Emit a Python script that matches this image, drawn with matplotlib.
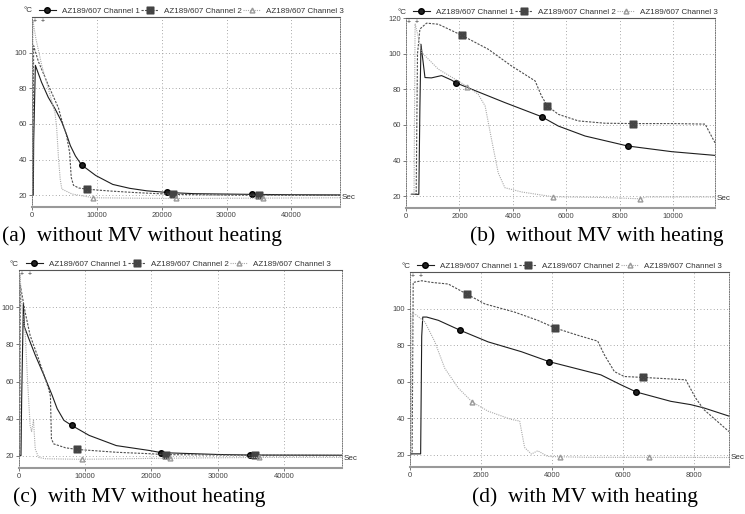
import numpy as np
import matplotlib.pyplot as plt

# channel curves, t in sec, T in degC
# (a) without MV without heating
a_t1 = [0, 200, 260, 520, 1470, 2510, 3560, 4610, 5390, 5920, 6700, 7640, 9840, 12460, 15080, 17700, 20840, 25000, 34000, 40000, 47500]
a_y1 = [20, 20, 50, 93, 83.5, 75, 68.5, 61, 53.4, 47.8, 42, 37, 31, 26, 23.8, 22.4, 21.5, 20.8, 20.4, 20.2, 20.1]
a_t2 = [0, 150, 250, 1000, 2500, 4080, 4600, 5300, 5800, 6050, 6400, 7200, 8530, 12000, 16000, 21800, 30000, 47500]
a_y2 = [20, 20, 104, 95, 82, 69, 62, 54, 44, 30, 25.5, 24, 23.3, 22.3, 21.4, 20.4, 20, 19.9]
a_t3 = [0, 100, 150, 600, 1500, 2500, 3560, 3800, 4100, 4350, 4600, 6180, 9440, 15000, 22260, 35600, 47500]
a_y3 = [20, 20, 118, 108, 93, 80, 66, 58, 40, 29, 23.4, 20.6, 18.5, 18.3, 18.1, 18.3, 18.5]
a_m1 = [7640, 20840, 34000]
a_m2 = [8530, 21800, 35000]
a_m3 = [9440, 22260, 35600]

# (b) without MV with heating
b_t1 = [200, 480, 520, 560, 710, 950, 1330, 1700, 1860, 2460, 3700, 5070, 5700, 6700, 8290, 9940, 11560]
b_y1 = [21, 21, 70, 105.4, 86.7, 86.5, 87.8, 85.3, 83.8, 80.1, 72.6, 64.7, 59.4, 53.8, 48.2, 45, 42.9]
b_t2 = [200, 380, 430, 520, 770, 1210, 2080, 3080, 3950, 4830, 5070, 5290, 5700, 6450, 7440, 8500, 10000, 11190, 11560]
b_y2 = [21, 21, 100, 114, 117.3, 116.7, 110.5, 102.6, 93.2, 84.8, 76.3, 70.7, 66, 62.3, 61, 60.8, 60.8, 60.5, 50]
b_t3 = [200, 300, 340, 420, 590, 1210, 2300, 2700, 2960, 3200, 3450, 3700, 4330, 5510, 7440, 8750, 9000, 11560]
b_y3 = [21, 21, 117, 112, 100.8, 91.4, 81.6, 77.3, 70.7, 51.9, 33.1, 24.7, 22.3, 19.6, 19.2, 18.5, 19.5, 19.5]
b_m1 = [1860, 5070, 8290]
b_m2 = [2080, 5290, 8500]
b_m3 = [2300, 5510, 8750]

# (c) with MV without heating
c_t1 = [0, 300, 400, 660, 820, 1500, 2450, 3980, 5000, 5770, 6790, 7960, 10600, 14700, 19800, 21480, 30000, 34900, 48800]
c_y1 = [20, 20, 50, 102, 89.5, 83, 74.3, 61.6, 52.6, 45.3, 39, 36.3, 30.9, 25.4, 22.7, 21.6, 20.6, 20.3, 20.2]
c_t2 = [0, 100, 200, 920, 1680, 2960, 4490, 4750, 4900, 5250, 7040, 8830, 14700, 19800, 22190, 35700, 48800]
c_y2 = [20, 20, 112, 97.6, 84.9, 72.2, 55.9, 52, 29, 26.3, 24.2, 23.3, 21.8, 21, 20.5, 20.2, 20.1]
c_t3 = [0, 80, 150, 500, 920, 1300, 1680, 1900, 2190, 2450, 2960, 4000, 9480, 20000, 36300, 48800]
c_y3 = [20, 20, 118, 98, 87, 60, 36.3, 33, 39, 23.6, 19, 18.3, 18, 18.5, 19, 19]
c_m1 = [7960, 21480, 34900]
c_m2 = [8830, 22190, 35700]
c_m3 = [9480, 22800, 36300]

# (d) with MV with heating
d_t1 = [0, 300, 330, 360, 470, 800, 1420, 2200, 3140, 3930, 5380, 5940, 6380, 7350, 7910, 8280, 8990]
d_y1 = [20.5, 20.5, 85, 95.5, 95.5, 93.7, 88.2, 81.9, 76.5, 71, 63.8, 58.4, 54.4, 49.3, 47.5, 45.7, 41.2]
d_t2 = [0, 60, 90, 330, 610, 1080, 1610, 2110, 2950, 3600, 4090, 4730, 5290, 5480, 5760, 6040, 6580, 7770, 8050, 8280, 8990]
d_y2 = [20.5, 20.5, 114.5, 115.4, 114.5, 113.6, 108, 102.7, 98.2, 93.7, 89.5, 85.5, 82.3, 74.7, 65.6, 62.9, 62.4, 61.1, 51.1, 44.8, 32.7]
d_t3 = [0, 30, 60, 150, 420, 700, 980, 1360, 1750, 2200, 2850, 3090, 3230, 3420, 3600, 3880, 4240, 5010, 6740, 8990]
d_y3 = [20.5, 20.5, 97.3, 97, 92.8, 81.9, 67.4, 56.6, 49, 43.9, 39.4, 38.5, 24, 20.4, 22.2, 19.1, 18.9, 18.6, 18.6, 18.5]
d_m1 = [1420, 3930, 6380]
d_m2 = [1610, 4090, 6580]
d_m3 = [1750, 4240, 6740]

labels = ['AZ189/607 Channel 1', 'AZ189/607 Channel 2', 'AZ189/607 Channel 3']
captions = ['(a)  without MV without heating', '(b)  without MV with heating',
            '(c)  with MV without heating', '(d)  with MV with heating']
xticks_long = [0, 10000, 20000, 30000, 40000]
xticks_b = [0, 2000, 4000, 6000, 8000, 10000]
xticks_d = [0, 2000, 4000, 6000, 8000]

plt.rcParams['font.family'] = 'Liberation Sans'

W, H = 745, 514
fig = plt.figure(figsize=(W/100, H/100), dpi=100)

# channel look: colour, dash, marker
styles = [
    dict(color='#1e1e1e', ls='-', lw=0.8, marker='o', ms=4, mfc='#222', mec='#000'),
    dict(color='#4f4f4f', ls=(0, (2, 1.2)), lw=0.8, marker=r'$\boxtimes$', ms=4.8, mfc='#444', mec='#444'),
    dict(color='#aaaaaa', ls=(0, (1, 1)), lw=0.8, marker='^', ms=3.5, mfc='none', mec='#999'),
]

# panel boxes in pixels: left, top, right, bottom
panels = [
    dict(box=(32, 17, 340, 207), xmax=47500, xt=xticks_long, yt=[20, 40, 60, 80, 100],
         data=[(a_t1, a_y1, a_m1), (a_t2, a_y2, a_m2), (a_t3, a_y3, a_m3)],
         cap=(2, 236, 'left')),
    dict(box=(406, 18, 715, 208), xmax=11560, xt=xticks_b, yt=[20, 40, 60, 80, 100, 120],
         data=[(b_t1, b_y1, b_m1), (b_t2, b_y2, b_m2), (b_t3, b_y3, b_m3)],
         cap=(724, 236, 'right')),
    dict(box=(19, 270, 342, 468), xmax=48800, xt=xticks_long, yt=[20, 40, 60, 80, 100],
         data=[(c_t1, c_y1, c_m1), (c_t2, c_y2, c_m2), (c_t3, c_y3, c_m3)],
         cap=(13, 497, 'left')),
    dict(box=(410, 272, 729, 467), xmax=8990, xt=xticks_d, yt=[20, 40, 60, 80, 100],
         data=[(d_t1, d_y1, d_m1), (d_t2, d_y2, d_m2), (d_t3, d_y3, d_m3)],
         cap=(472, 497, 'left')),
]

for p, cap in zip(panels, captions):
    l, t, r, b = p['box']
    ax = fig.add_axes([l/W, 1 - b/H, (r - l)/W, (b - t)/H])
    handles = []
    for (tt, yy, mm), st in zip(p['data'], styles):
        # put marker positions on the curve so markevery can pick them
        tx = np.union1d(tt, mm)
        ty = np.interp(tx, tt, yy)
        h, = ax.plot(tx, ty, markevery=list(np.isin(tx, mm)), **st)
        handles.append(h)
    ax.set_xlim(0, p['xmax'])
    ax.set_ylim(13.3, 120.2)
    ax.set_xticks(p['xt'])
    ax.set_yticks(p['yt'])
    ax.grid(True, color='#8c8c8c', ls=(0, (1, 3)), lw=0.6)
    ax.tick_params(labelsize=5.5, length=2, width=0.5, colors='#444', pad=1.5)
    for s in ['left', 'right']:
        ax.spines[s].set_linestyle((0, (1, 1.5)))
        ax.spines[s].set_color('#777')
        ax.spines[s].set_linewidth(0.7)
    ax.spines['top'].set_color('#555')
    ax.spines['top'].set_linewidth(0.8)
    ax.spines['bottom'].set_color('#999')
    ax.spines['bottom'].set_linewidth(1.5)
    ax.text(1.004, 18.5, 'Sec', transform=ax.get_yaxis_transform(), fontsize=5.8,
            color='#333', va='center', ha='left')
    ax.text(0.004, 0.995, '+  +', transform=ax.transAxes, fontsize=5, color='#333',
            va='top', ha='left')
    # legend row above the box, like the logger software draws it
    fig.text((l - 9)/W, 1 - (t - 6)/H, '°C', fontsize=5.8, color='#333', va='center', ha='left')
    ax.legend(handles, labels, loc='center left', ncol=3, frameon=False,
              bbox_to_anchor=((l + 7)/W, 1 - (t - 6)/H), bbox_transform=fig.transFigure,
              fontsize=5.8, handlelength=2.1, handletextpad=0.7, columnspacing=0.2,
              borderpad=0, borderaxespad=0, labelcolor='#333')
    cx, cy, ha = p['cap']
    fig.text(cx/W, 1 - cy/H, cap, family='Liberation Serif', fontsize=15.5,
             va='center', ha=ha)

fig.savefig('out.png', dpi=100)
